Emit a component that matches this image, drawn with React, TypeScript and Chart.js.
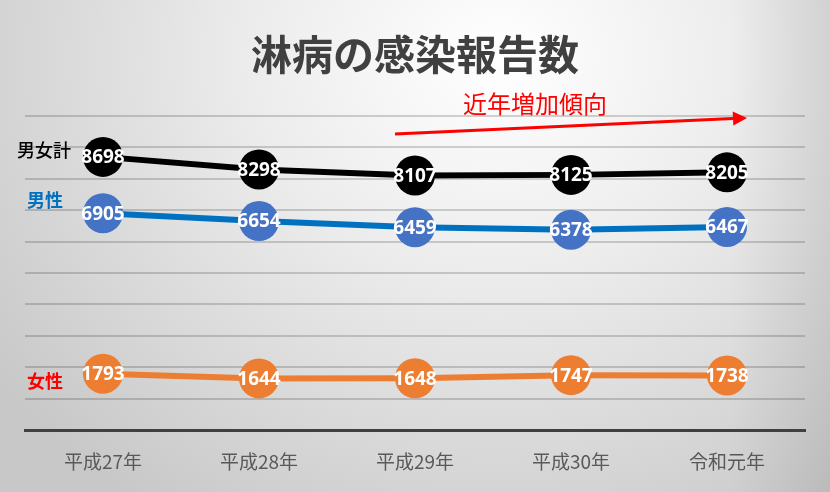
import React, { useEffect, useRef } from "react";
import { Chart, registerables } from "chart.js";

Chart.register(...registerables);

const categories = ["平成27年", "平成28年", "平成29年", "平成30年", "令和元年"];
const totalValues = [8698, 8298, 8107, 8125, 8205];
const maleValues = [6905, 6654, 6459, 6378, 6467];
const femaleValues = [1793, 1644, 1648, 1747, 1738];
const seriesNames = ["男女計", "男性", "女性"];
const titleText = "淋病の感染報告数";
const trendText = "近年増加傾向";

const JP = '"Noto Sans CJK JP", "Noto Sans", sans-serif';

const overlayPlugin = {
  id: "overlay",
  afterDatasetsDraw(chart: any) {
    const ctx = chart.ctx as CanvasRenderingContext2D;
    const x = chart.scales.x;
    const y = chart.scales.y;
    ctx.save();
    // data labels
    ctx.fillStyle = "#ffffff";
    ctx.font = 'bold 19px "Noto Sans", sans-serif';
    ctx.textAlign = "center";
    ctx.textBaseline = "middle";
    chart.data.datasets.forEach((ds: any, i: number) => {
      const meta = chart.getDatasetMeta(i);
      meta.data.forEach((pt: any, j: number) => {
        ctx.fillText(String(ds.data[j]), pt.x, pt.y + 1);
      });
    });

    // title
    ctx.fillStyle = "#404040";
    ctx.font = `bold 41px ${JP}`;
    ctx.fillText(titleText, 415, 54);

    // trend annotation
    ctx.fillStyle = "#FF0000";
    ctx.font = `24px ${JP}`;
    ctx.fillText(trendText, 535, 104);

    // arrow
    const x0 = x.getPixelForValue(2) - 20;
    const y0 = y.getPixelForValue(9430);
    const x1 = x.getPixelForValue(4) + 20;
    const y1 = y.getPixelForValue(9940);
    const ang = Math.atan2(y1 - y0, x1 - x0);
    const headLen = 14;
    const headW = 7;
    const bx = x1 - headLen * Math.cos(ang);
    const by = y1 - headLen * Math.sin(ang);
    ctx.strokeStyle = "#FF0000";
    ctx.lineWidth = 3;
    ctx.beginPath();
    ctx.moveTo(x0, y0);
    ctx.lineTo(bx, by);
    ctx.stroke();
    ctx.beginPath();
    ctx.moveTo(x1, y1);
    ctx.lineTo(bx + headW * Math.sin(ang), by - headW * Math.cos(ang));
    ctx.lineTo(bx - headW * Math.sin(ang), by + headW * Math.cos(ang));
    ctx.closePath();
    ctx.fill();

    // series names at left
    ctx.textAlign = "center";
    ctx.font = `500 18px ${JP}`;
    ctx.fillStyle = "#000000";
    ctx.fillText(seriesNames[0], 44, 150);
    ctx.font = `bold 18px ${JP}`;
    ctx.fillStyle = "#0070C0";
    ctx.fillText(seriesNames[1], 45, 200);
    ctx.fillStyle = "#FF0000";
    ctx.fillText(seriesNames[2], 45, 381);
    ctx.restore();
  },
};

export default function App() {
  const ref = useRef<HTMLCanvasElement | null>(null);
  useEffect(() => {
    if (!ref.current) return;
    const chart = new Chart(ref.current, {
      type: "line",
      data: {
        labels: categories,
        datasets: [
          {
            label: seriesNames[0],
            data: totalValues,
            borderColor: "#000000",
            backgroundColor: "#000000",
            pointBackgroundColor: "#000000",
            borderWidth: 6,
            pointRadius: 20,
            pointBorderWidth: 0,
            tension: 0,
          },
          {
            label: seriesNames[1],
            data: maleValues,
            borderColor: "#0070C0",
            backgroundColor: "#4472C4",
            pointBackgroundColor: "#4472C4",
            borderWidth: 6,
            pointRadius: 20,
            pointBorderWidth: 0,
            tension: 0,
          },
          {
            label: seriesNames[2],
            data: femaleValues,
            borderColor: "#ED7D31",
            backgroundColor: "#ED7D31",
            pointBackgroundColor: "#ED7D31",
            borderWidth: 6,
            pointRadius: 20,
            pointBorderWidth: 0,
            tension: 0,
          },
        ],
      },
      options: {
        responsive: false,
        animation: false,
        layout: { padding: { left: 25, right: 25, top: 116, bottom: 0 } },
        plugins: {
          legend: { display: false },
          tooltip: { enabled: false },
          title: { display: false },
        },
        scales: {
          x: {
            offset: true,
            grid: { display: false, drawTicks: false },
            border: { display: true, color: "#404040", width: 3 },
            ticks: {
              color: "#595959",
              font: { family: JP, size: 19 },
              padding: 20,
              maxRotation: 0,
            },
            afterFit: (s: any) => {
              s.height = 62;
            },
          },
          y: {
            min: 0,
            max: 10000,
            ticks: { stepSize: 1000, display: false },
            grid: {
              drawTicks: false,
              lineWidth: 2,
              color: (c: any) =>
                c.tick && c.tick.value === 0 ? "rgba(0,0,0,0)" : "rgba(0,0,0,0.17)",
            },
            border: { display: false },
            afterFit: (s: any) => {
              s.width = 0;
            },
          },
        },
      },
      plugins: [overlayPlugin],
    });
    return () => chart.destroy();
  }, []);

  return (
    <div
      style={{
        position: "fixed",
        left: 0,
        top: 0,
        width: 830,
        height: 492,
        background:
          "linear-gradient(to right, rgba(0,0,0,0) 88%, rgba(0,0,0,0.08) 100%), radial-gradient(ellipse 75% 110% at 60% 12%, #ffffff 0%, #ececec 40%, #c8c8c8 100%)",
      }}
    >
      <canvas ref={ref} width={830} height={492} style={{ display: "block" }} />
    </div>
  );
}
